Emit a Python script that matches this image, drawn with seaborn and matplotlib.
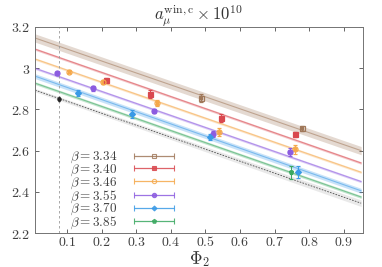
import numpy as np
import pandas as pd
import seaborn as sns
import matplotlib.pyplot as plt
from matplotlib.ticker import FuncFormatter
from matplotlib.container import ErrorbarContainer
from matplotlib.legend_handler import HandlerErrorbar

# beta values and styles
betas = ["3.34", "3.40", "3.46", "3.55", "3.70", "3.85"]
colors = ["#a0785a", "#d9484f", "#f5a84a", "#8c5ce0", "#3a9ae6", "#3aa860"]
markers = ["s", "s", "o", "o", "D", "p"]
filled = [False, True, False, True, True, True]

# fit lines: value at Phi2 = 0 and Phi2 = 0.95, band half width
fit_left = [3.151, 3.097, 3.049, 3.004, 2.966, 2.932]
fit_right = [2.600, 2.540, 2.495, 2.450, 2.405, 2.375]
fit_err = [0.020, 0.006, 0.006, 0.006, 0.012, 0.007]
cont_left, cont_right = 2.898, 2.345
cont_err_left, cont_err_right = 0.008, 0.016

# lattice data points
phi2 = [
    [0.488, 0.779],
    [0.212, 0.339, 0.545, 0.758],
    [0.105, 0.205, 0.360, 0.538, 0.758],
    [0.071, 0.175, 0.352, 0.521, 0.743],
    [0.132, 0.289, 0.514, 0.767],
    [0.746],
]
amu = [
    [2.855, 2.708],
    [2.943, 2.873, 2.760, 2.679],
    [2.983, 2.932, 2.830, 2.690, 2.606],
    [2.975, 2.902, 2.794, 2.680, 2.593],
    [2.881, 2.778, 2.668, 2.497],
    [2.495],
]
amu_err = [
    [0.018, 0.012],
    [0.008, 0.020, 0.020, 0.012],
    [0.006, 0.010, 0.015, 0.018, 0.020],
    [0.006, 0.014, 0.010, 0.015, 0.020],
    [0.014, 0.020, 0.015, 0.030],
    [0.032],
]
phi2_phys, amu_phys, amu_phys_err = 0.077, 2.850, 0.008

sns.set_style("ticks")
plt.rcParams["font.family"] = ["DejaVu Serif"]
plt.rcParams["mathtext.fontset"] = "cm"

fig = plt.figure(figsize=(3.82, 2.67), dpi=100)
ax = fig.add_axes([0.092, 0.127, 0.858, 0.772])

xs = np.array([0.0, 0.95])
for i in range(len(betas)):
    line = pd.DataFrame({"x": xs, "y": [fit_left[i], fit_right[i]]})
    ax.fill_between(xs, line["y"] - fit_err[i], line["y"] + fit_err[i],
                    color=colors[i], alpha=0.28, lw=0)
    sns.lineplot(data=line, x="x", y="y", ax=ax, color=colors[i], lw=0.8, alpha=0.55)

cont = pd.DataFrame({"x": xs, "y": [cont_left, cont_right]})
ax.fill_between(xs, cont["y"] - [cont_err_left, cont_err_right],
                cont["y"] + [cont_err_left, cont_err_right],
                color="0.88", alpha=0.7, lw=0)
sns.lineplot(data=cont, x="x", y="y", ax=ax, color="0.3", lw=0.6, ls=(0, (2, 1.5)))

handles = []
for i in range(len(betas)):
    fc = colors[i] if filled[i] else "none"
    ms = 3.6 if markers[i] != "D" else 3.0
    ax.errorbar(phi2[i], amu[i], yerr=amu_err[i], xerr=0.003, fmt=markers[i],
                color=colors[i], mfc=fc, mec=colors[i], ms=ms, mew=0.9,
                elinewidth=0.7, capsize=1.5, capthick=0.7, zorder=4)
    h = ax.errorbar([np.nan], [np.nan], xerr=[0.1], fmt=markers[i], color=colors[i],
                    mfc=fc, mec=colors[i], ms=ms - 0.5, mew=0.8, elinewidth=0.9,
                    capsize=2, capthick=0.9, alpha=0.85,
                    label=r"$\beta = %s$" % betas[i])
    handles.append(h)

ax.errorbar([phi2_phys], [amu_phys], yerr=amu_phys_err, fmt="o", color="0.15",
            ms=2.2, elinewidth=0.6, capsize=1.0, zorder=5)
ax.axvline(phi2_phys, color="0.6", lw=0.6, ls=(0, (3, 3)))

ax.set_xlim(0.008, 0.955)
ax.set_ylim(2.2, 3.2)
ax.set_xticks([0.1, 0.2, 0.3, 0.4, 0.5, 0.6, 0.7, 0.8, 0.9])
ax.set_yticks([2.2, 2.4, 2.6, 2.8, 3.0, 3.2])
ax.xaxis.set_major_formatter(FuncFormatter(lambda v, p: "$%g$" % round(v, 2)))
ax.yaxis.set_major_formatter(FuncFormatter(lambda v, p: "$%g$" % round(v, 2)))
ax.tick_params(direction="in", top=True, right=True, length=3, width=0.6,
               labelsize=10, colors="0.3", labelcolor="0.25")
ax.tick_params(axis="x", pad=1.5)
for s in ax.spines.values():
    s.set_color("0.45")
    s.set_linewidth(0.7)

ax.set_xlabel(r"$\Phi_2$", fontsize=12.5, color="0.2")
ax.xaxis.set_label_coords(0.5, -0.078)
ax.set_ylabel("")
ax.set_title(r"$a_\mu^{\rm win,c} \times 10^{10}$", fontsize=12, pad=5, color="0.2")

leg = ax.legend(handles=handles, loc="upper left", bbox_to_anchor=(0.085, 0.435),
                frameon=False, fontsize=9.5, handlelength=3.0, handletextpad=1.3,
                labelspacing=-0.2, markerfirst=False, borderpad=0,
                handler_map={ErrorbarContainer: HandlerErrorbar(xerr_size=1.5)})
for t in leg.get_texts():
    t.set_color("0.25")

fig.savefig("out.png", dpi=100)
